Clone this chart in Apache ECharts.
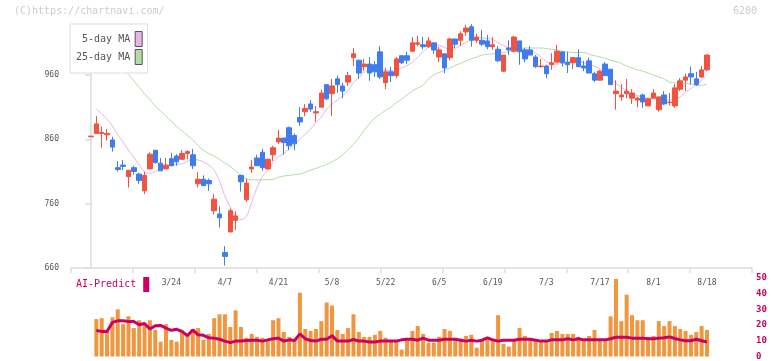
<!DOCTYPE html>
<html>
<head>
<meta charset="utf-8">
<script src="https://cdn.jsdelivr.net/npm/echarts@6/dist/echarts.min.js"></script>
<style>html,body{margin:0;padding:0;background:#fff}#c{width:772px;height:361px}</style>
</head>
<body>
<div id="c"></div>
<script>
// ---- data (index 0 = first trading day shown) ----
const tickIdx = [15,25,35,45,55,65,75,85,95,105,115];
const tickLabels = ['3/24','4/7','4/21','5/8','5/22','6/5','6/19','7/3','7/17','8/1','8/18'];
const priceTicks = [660,760,860,960];
const openP = [864,869,869,867,859,816,820,802,816,806,780,814,843,823,814,830,834,829,838,836,
  791,798,796,749,744,684,716,734,804,766,814,831,840,814,836,856,862,878,866,894,
  903,915,901,910,945,931,954,943,949,987,983,973,977,976,996,948,965,959,990,990,
  997,1008,1007,1004,1010,988,993,987,1016,1014,1027,1035,1014,1014,1013,1004,1000,966,1002,997,
  1013,999,999,988,973,974,976,980,996,980,979,987,974,982,962,952,977,969,931,926,
  931,924,921,929,912,924,906,929,917,912,938,952,962,954,957,968];
const closeP = [865,884,871,869,848,813,818,812,810,796,804,837,824,811,820,819,825,838,841,819,
  798,788,791,767,738,678,749,741,794,792,817,819,816,829,847,862,855,850,853,887,
  908,907,903,932,923,943,945,935,959,993,963,977,963,965,957,965,959,985,979,983,
  1010,1010,1004,1013,999,999,971,1016,1008,1024,1033,1014,1019,1008,1004,1007,982,991,999,1019,
  996,985,991,973,974,962,979,997,979,976,987,973,971,963,952,966,959,945,935,929,
  935,932,924,918,923,932,926,915,918,940,951,957,957,945,968,991];
const lowP = [864,869,847,858,841,810,812,785,805,791,775,814,822,811,814,818,819,828,829,814,
  785,788,780,743,723,664,716,719,779,763,808,819,811,813,826,853,836,843,843,881,
  896,903,887,910,921,896,932,924,943,974,954,966,951,957,954,938,949,955,977,977,
  997,1005,1000,1002,993,980,963,983,1002,1005,1021,1004,1010,1005,1000,999,980,965,991,995,
  976,980,991,971,971,955,968,980,973,963,969,973,966,963,949,952,959,945,906,920,
  924,915,910,909,912,924,903,913,913,909,935,935,945,943,955,966];
const highP = [865,896,880,876,864,826,828,812,819,808,810,840,843,831,831,839,837,843,843,845,
  809,804,799,775,756,694,752,748,805,799,828,836,845,830,850,875,862,880,869,910,
  915,921,912,937,945,954,959,948,965,1002,983,985,988,982,1005,971,973,988,990,996,
  1019,1021,1019,1019,1010,1004,993,1018,1016,1028,1038,1039,1024,1030,1022,1019,1005,991,1014,1021,
  1013,1002,1005,991,985,976,994,1007,996,996,988,1000,982,987,965,968,980,969,952,946,
  954,938,926,931,924,938,926,935,932,946,955,962,973,965,974,992];
const ma5 = [null,907,900,891,881,867,856,843,832,820,809,807,810,814,817,820,821,822,826,829,
  828,825,820,812,795,772,755,741,735,740,762,785,802,812,824,833,838,845,852,860,
  868,876,886,895,907,915,921,928,936,948,956,964,968,970,969,967,967,968,971,975,
  980,988,996,1003,1007,1006,1003,999,1001,1006,1011,1015,1017,1018,1017,1015,1010,1006,1002,1000,
  999,999,999,994,988,981,978,977,978,980,981,981,979,977,973,970,962,955,947,941,
  936,931,928,926,924,923,922,921,921,922,926,933,939,945,952,962];
const ma25 = [null,1039,1025,1010,995,982,970,961,951,941,931,922,912,904,896,888,880,873,866,859,
  850,843,838,834,829,823,818,811,804,799,797,797,797,797,798,801,803,804,805,806,
  809,812,815,818,821,825,830,836,844,852,862,874,884,893,899,905,910,917,922,929,
  935,940,944,954,960,964,967,971,975,978,982,985,988,991,992,993,994,995,996,999,
  1001,1002,1002,1002,1002,1001,1000,999,997,996,995,995,995,992,990,988,986,983,981,978,
  974,971,968,966,963,960,957,954,949,948,947,947,946,944,944,946];
const volume = [null,23.8,24.4,15.8,25,30,20.6,25.6,18.1,23.1,20.6,23.1,17,9.4,20.6,10.6,9.4,16,14,17.5,
  18.1,10.6,14.4,24.4,26.9,26.9,18.8,29.4,18.8,11.9,14.4,12.5,11.9,10.6,23.1,24.4,15.6,12.5,10.6,40.6,
  17.5,16.3,17.5,22.5,34.4,32.5,16.9,14.4,18.1,26.9,15.6,12.5,12.5,13.8,16.3,11.9,10,9.8,4.4,11.3,
  16.3,19.4,14.4,8.8,8.8,12.5,17.5,16.3,11.3,11.3,13.1,13.8,5.6,10.6,11.9,11.3,26.3,8.1,6.3,10.6,
  18.1,13.1,11.3,10.6,10,10,15,16.3,14.4,14.4,14.4,12.5,10.6,13.1,16.9,10.6,10.6,25.6,49.4,22.5,
  39.4,26.3,23.1,23.1,12.5,13.1,22.5,19.4,22.5,19.4,17.5,16.3,13.8,15.6,19.4,16.9];
const aiPredict = [null,16.5,16,16,21.7,22.7,22.7,22.3,22.3,20.2,21,17.5,19.6,19.8,18.1,16.7,17.3,16,13.3,16.9,
  13.8,13.5,11.9,11.7,11,9.8,8.8,9.8,9.8,10.2,10.4,10.4,9.8,10.6,11.3,11.7,9.8,10.6,10.2,14.4,
  11.3,10.2,9.8,11,11,13.3,9.8,9.8,9.8,10.8,9.8,9.8,9.2,9.2,9.8,9.8,9.8,9.8,10.6,11,
  11,10.4,11.7,10.4,10.4,10.4,11,11,11,10.4,9.8,10.4,9.8,10.4,11.9,10.6,9.8,10.4,10.4,10.4,
  11,11,11,10.4,9.8,9.8,10.6,10.6,10.6,11.3,10.6,11.3,10.6,10.6,10.6,10.6,10.6,11.3,12.3,12.3,
  12.3,11.7,11.7,11.7,11.3,11.3,11.7,12,12.5,11.5,10.6,10,10,11,10,9.2];

// ---- styles ----
const MONO = '"DejaVu Sans Mono", "Liberation Mono", monospace';
const RED = '#f1533f', BLUE = '#3f7def', PINK = '#e8b4e8', GREEN = '#b3dba6', ORANGE = '#f2953f', CRIMSON = '#cc0062';
const XMIN = -3.73, XMAX = 123.4;

const pairs = arr => arr.map((v, i) => [i, v]).filter(p => p[1] != null);
const candles = openP.map((o, i) => [i, o, closeP[i], lowP[i], highP[i]]);

const chart = echarts.init(document.getElementById('c'), null, {renderer: 'canvas'});
chart.setOption({
  animation: false,
  backgroundColor: '#fff',
  title: [
    {text: '(C)https://chartnavi.com/', left: 9, top: 1, textStyle: {fontFamily: MONO, fontSize: 10, fontWeight: 'normal', color: '#cccccc'}},
    {text: '6200', right: 10, top: 1, textStyle: {fontFamily: MONO, fontSize: 10, fontWeight: 'normal', color: '#cccccc'}}
  ],
  legend: [
    {
      data: [
        {name: '5-day MA', itemStyle: {color: PINK, borderColor: '#555', borderWidth: 1}},
        {name: '25-day MA', itemStyle: {color: GREEN, borderColor: '#555', borderWidth: 1}}
      ],
      orient: 'vertical', left: 70, top: 24, align: 'right', icon: 'rect',
      itemWidth: 7, itemHeight: 15, itemGap: 2, padding: [7, 5, 8, 6],
      backgroundColor: '#fff', borderColor: '#dddddd', borderWidth: 1, selectedMode: false, z: 10,
      formatter: n => n.padStart(9, ' '),
      textStyle: {fontFamily: MONO, fontSize: 10, color: '#555'}
    },
    {
      data: [{name: 'AI-Predict', itemStyle: {color: CRIMSON}}],
      left: 76, top: 277, align: 'right', icon: 'rect', itemWidth: 6, itemHeight: 15,
      padding: 0, selectedMode: false,
      textStyle: {fontFamily: MONO, fontSize: 10, color: CRIMSON, padding: [0, 2, 0, 0]}
    }
  ],
  grid: [
    {left: 71, right: 20, top: 24, bottom: 93},
    {left: 71, right: 20, top: 278, bottom: 3}
  ],
  xAxis: [
    {
      type: 'value', gridIndex: 0, min: XMIN, max: XMAX, position: 'bottom',
      axisLine: {show: false}, axisTick: {show: false}, splitLine: {show: false},
      axisLabel: {
        customValues: tickIdx, margin: 11, fontFamily: MONO, fontSize: 8, color: '#555',
        formatter: v => { const k = tickIdx.indexOf(Math.round(v)); return k >= 0 ? tickLabels[k] : ''; }
      }
    },
    {
      type: 'value', gridIndex: 0, min: 0, max: 11, interval: 1, position: 'bottom',
      axisLine: {show: true, onZero: false, lineStyle: {color: '#dddddd', width: 1.5}},
      axisTick: {show: true, length: 5, lineStyle: {color: '#dddddd', width: 1.5}},
      axisLabel: {show: false}, splitLine: {show: false}
    },
    {
      type: 'value', gridIndex: 1, min: XMIN, max: XMAX, show: false
    }
  ],
  yAxis: [
    {
      type: 'value', gridIndex: 0, min: 660, max: 1039.3, interval: 100,
      axisLine: {show: true, lineStyle: {color: '#dddddd', width: 1.5}},
      axisTick: {show: true, length: 6, customValues: priceTicks, lineStyle: {color: '#dddddd', width: 1.5}},
      splitLine: {show: false},
      axisLabel: {customValues: priceTicks, margin: 12, fontFamily: MONO, fontSize: 8, color: '#555'}
    },
    {
      type: 'value', gridIndex: 1, min: 0, max: 50, interval: 10, position: 'right',
      axisLine: {show: false}, axisTick: {show: false}, splitLine: {show: false},
      axisLabel: {margin: 4, fontFamily: MONO, fontSize: 9, fontWeight: 'bold', color: CRIMSON}
    }
  ],
  series: [
    {
      name: '25-day MA', type: 'line', xAxisIndex: 0, yAxisIndex: 0, data: pairs(ma25),
      smooth: 0.3, symbol: 'none', lineStyle: {color: GREEN, width: 1}, itemStyle: {color: GREEN}, z: 2
    },
    {
      name: '5-day MA', type: 'line', xAxisIndex: 0, yAxisIndex: 0, data: pairs(ma5),
      smooth: 0.3, symbol: 'none', lineStyle: {color: PINK, width: 1}, itemStyle: {color: PINK}, z: 2
    },
    {
      name: 'price', type: 'candlestick', xAxisIndex: 0, yAxisIndex: 0, data: candles,
      encode: {x: 0, y: [1, 2, 3, 4]}, barWidth: 5, z: 3,
      itemStyle: {color: RED, color0: BLUE, borderColor: RED, borderColor0: BLUE, borderWidth: 1}
    },
    {
      name: 'volume', type: 'bar', xAxisIndex: 2, yAxisIndex: 1, data: pairs(volume),
      barWidth: 4, itemStyle: {color: ORANGE}
    },
    {
      name: 'AI-Predict', type: 'line', xAxisIndex: 2, yAxisIndex: 1, data: pairs(aiPredict),
      symbol: 'none', lineStyle: {color: CRIMSON, width: 3}, itemStyle: {color: CRIMSON}, z: 3
    }
  ]
});
</script>
</body>
</html>
